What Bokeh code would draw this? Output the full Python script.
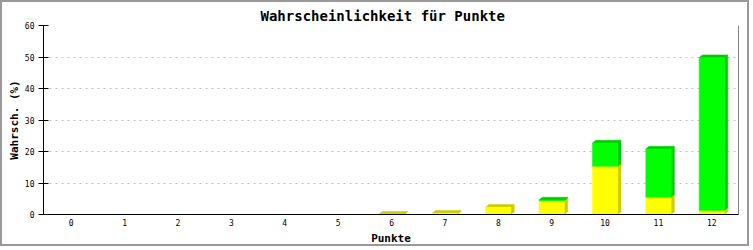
from bokeh.plotting import figure
from bokeh.models import FixedTicker, Span, ColumnDataSource
from bokeh.embed import file_html
from bokeh.resources import INLINE

# ---- data ----
points = list(range(13))
tick_labels = [str(i) for i in points]
yellow = [0, 0, 0, 0, 0, 0, 0.1, 0.4, 2.3, 4.4, 15.3, 5.5, 1.3]
green = [0, 0, 0, 0, 0, 0, 0, 0, 0, 0.2, 7.4, 15.3, 48.5]
y_ticks = [0, 10, 20, 30, 40, 50, 60]
title = "Wahrscheinlichkeit für Punkte"

series = [(yellow, "#ffff00", "#cccc00"), (green, "#00ff00", "#00cc00")]

# ---- style ----
BAR_W = 0.474
DX = 0.062   # 3D depth in x (data units)
DY = 0.86    # 3D depth in y (data units)
FONT = "DejaVu Sans Mono"

p = figure(width=749, height=246, output_backend="svg", toolbar_location=None,
           x_range=(-0.52, 12.5), y_range=(0, 60),
           min_border_left=41, min_border_right=13, min_border_top=23,
           min_border_bottom=34, background_fill_color="white",
           border_fill_color="white", outline_line_color=None)
p.styles = {"border": "2px solid #999999"}

p.title.text = title
p.title.text_font = FONT
p.title.text_font_size = "14px"
p.title.text_font_style = "bold"
p.title.text_color = "black"
p.title.align = "left"
p.title.offset = 217
p.title.standoff = 4

# build faces
fx0, fx1, fy0, fy1, fcol = [], [], [], [], []
px, py, pcol = [], [], []
for i, x in enumerate(points):
    base = 0.0
    top_idx = max([k for k, s in enumerate(series) if s[0][i] > 0], default=None)
    for k, (vals, c, dc) in enumerate(series):
        v = vals[i]
        if v <= 0:
            continue
        b, t = base, base + v
        xl, xr = x - BAR_W / 2, x + BAR_W / 2
        fx0.append(xl); fx1.append(xr); fy0.append(b); fy1.append(t); fcol.append(c)
        px.append([xr, xr + DX, xr + DX, xr])
        py.append([b, b + DY, t + DY, t])
        pcol.append(dc)
        if k == top_idx:
            px.append([xl, xl + DX, xr + DX, xr])
            py.append([t, t + DY, t + DY, t])
            pcol.append(dc)
        base = t

p.patches(xs="xs", ys="ys", fill_color="c", line_color="c", line_width=0.5,
          source=ColumnDataSource(dict(xs=px, ys=py, c=pcol)))
p.quad(left="l", right="r", bottom="b", top="t", fill_color="c", line_color="c",
       line_width=0.5, source=ColumnDataSource(dict(l=fx0, r=fx1, b=fy0, t=fy1, c=fcol)))

p.add_layout(Span(location=12.5, dimension="height", line_color="black", line_width=1))

# axes
p.xaxis.ticker = FixedTicker(ticks=points)
p.xaxis.major_label_overrides = {x: l for x, l in zip(points, tick_labels)}
p.xaxis.major_tick_line_color = None
p.xaxis.minor_tick_line_color = None
p.xaxis.major_tick_in = 0
p.xaxis.major_tick_out = 0
p.xaxis.major_label_standoff = 4
p.xaxis.axis_label = "Punkte"
p.xaxis.axis_label_standoff = 3

p.yaxis.ticker = FixedTicker(ticks=y_ticks)
p.yaxis.minor_tick_line_color = None
p.yaxis.major_tick_in = 5
p.yaxis.major_tick_out = 5
p.yaxis.major_label_standoff = 4
p.yaxis.axis_label = "Wahrsch. (%)"
p.yaxis.axis_label_standoff = 1

for ax in (p.xaxis, p.yaxis):
    ax.axis_line_color = "black"
    ax.axis_line_width = 1
    ax.major_label_text_font = FONT
    ax.major_label_text_font_size = "8px"
    ax.major_label_text_color = "black"
    ax.axis_label_text_font = FONT
    ax.axis_label_text_font_size = "11px"
    ax.axis_label_text_font_style = "bold"
    ax.axis_label_text_color = "black"

p.xgrid.grid_line_color = None
p.ygrid.grid_line_color = "#c0c0c0"
p.ygrid.grid_line_dash = "2 4"

open("out.html", "w").write(file_html(p, INLINE))
